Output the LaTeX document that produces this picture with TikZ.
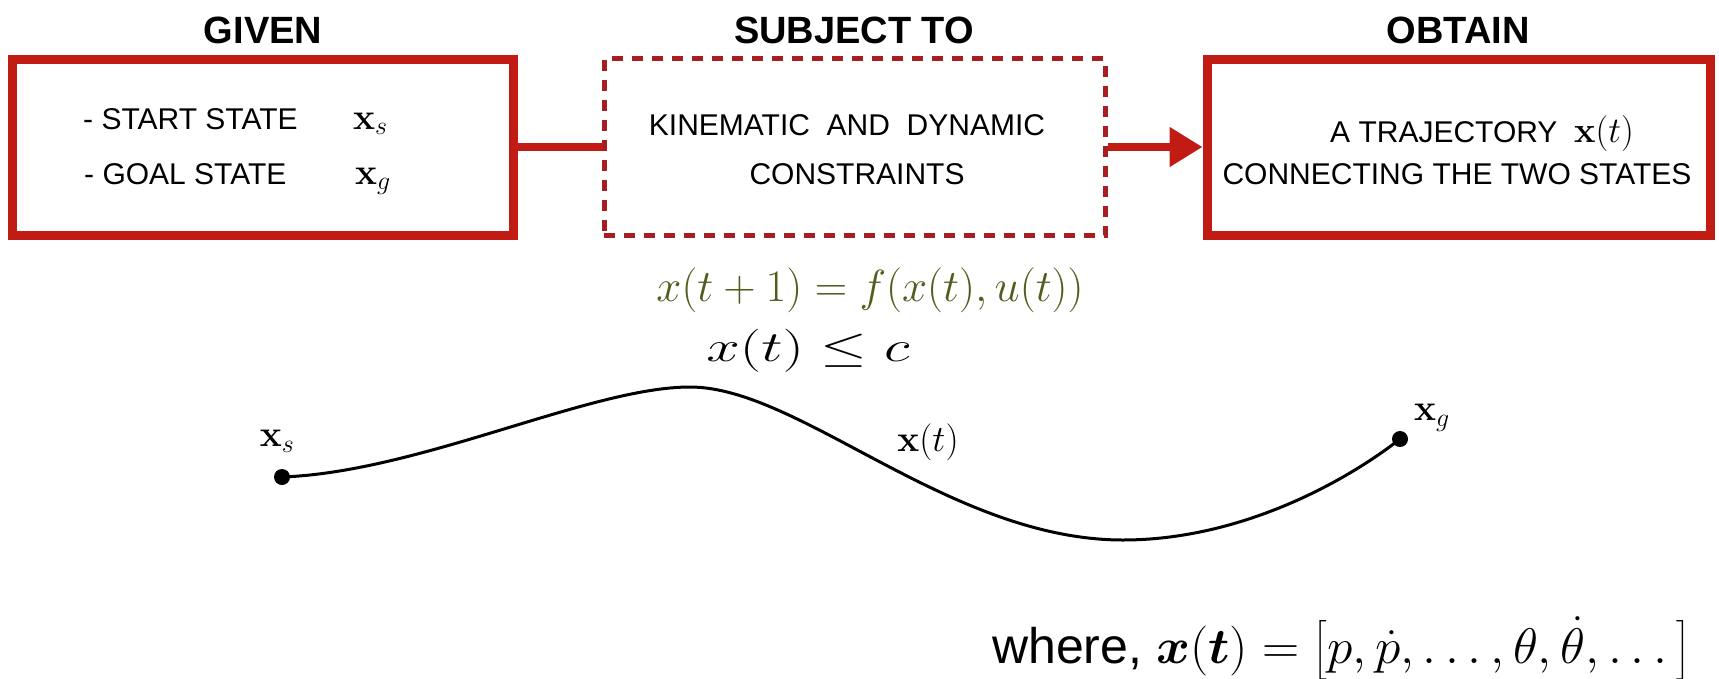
\RequirePackage{fix-cm}
\documentclass[tikz,border=0pt]{standalone}
\usepackage{amsmath,bm}
\usepackage[no-math]{fontspec}
\setmainfont{Liberation Sans}
\usetikzlibrary{arrows.meta}
\definecolor{boxred}{RGB}{192,28,20}
\definecolor{dashred}{RGB}{168,30,32}
\definecolor{eqcol}{RGB}{85,90,30}
\tikzset{
  titletext/.style={font=\fontsize{38}{40}\selectfont\bfseries, anchor=base},
  solidbox/.style={draw=boxred, line width=9pt, minimum width=501pt, minimum height=176pt, inner sep=0pt},
  dashbox/.style={draw=dashred, line width=5pt, dash pattern=on 11pt off 9pt, minimum width=501pt, minimum height=177pt, inner sep=0pt},
  boxtext/.style={font=\fontsize{30}{32}\selectfont, inner sep=0pt},
  mathlabel/.style={font=\fontsize{37}{39}\selectfont, inner sep=0pt},
  statedot/.style={circle, fill=black, inner sep=0pt, minimum size=16pt},
  link/.style={draw=boxred, line width=8pt},
}
\begin{document}
\begin{tikzpicture}[x=1pt,y=-1pt]
\useasboundingbox (0,0) rectangle (1719,678);
% titles
\node[titletext] (tgiven) at (263,43) {GIVEN};
\node[titletext] (tsubj) at (854,43) {SUBJECT TO};
\node[titletext] (tobtain) at (1458,43) {OBTAIN};
% boxes
\node[solidbox] (given) at (262.5,147) {};
\node[dashbox] (subj) at (854.5,147) {};
\node[solidbox, minimum width=503pt] (obtain) at (1458.5,147) {};
% connectors
\draw[link] (given.east) -- (subj.west);
\draw[link, -{Triangle[length=33pt,width=38pt]}] (subj.east) -- (obtain.west);
% GIVEN contents
\node[boxtext, anchor=base west] (start) at (83,129) {- START STATE};
\node[mathlabel, anchor=base west] (startx) at (353,129) {$\mathbf{x}_s$};
\node[boxtext, anchor=base west] (goal) at (84,184) {- GOAL STATE};
\node[mathlabel, anchor=base west] (goalx) at (355,184) {$\mathbf{x}_g$};
% SUBJECT TO contents
\node[boxtext, anchor=base] (kin) at (847,135) {KINEMATIC\ \ AND\ \ DYNAMIC};
\node[boxtext, anchor=base] (cons) at (857,184) {CONSTRAINTS};
% OBTAIN contents
\node[boxtext, anchor=base west] (traj) at (1330,142) {A TRAJECTORY\ \ {\fontsize{36}{38}\selectfont$\mathbf{x}(t)$}};
\node[boxtext, anchor=base] (conn) at (1457,184) {CONNECTING THE TWO STATES};
% equations
\node[font=\fontsize{45}{47}\selectfont, text=eqcol, anchor=base, inner sep=0pt] (dyn) at (870,301) {$x(t+1)=f(x(t),u(t))$};
\node[font=\fontsize{43}{45}\selectfont, anchor=base, inner sep=0pt] (ineq) at (808,361) {\scalebox{1.4}[1]{$x(t)\le c$}};
% trajectory
\node[statedot] (xs) at (282,477) {};
\node[statedot] (xg) at (1400,439) {};
\node[mathlabel] (xslab) at (277,441) {$\mathbf{x}_s$};
\node[mathlabel] (xtlab) at (928,442) {$\mathbf{x}(t)$};
\node[mathlabel] (xglab) at (1432,418) {$\mathbf{x}_g$};
\draw[line width=3pt] (xs.center) .. controls (420,472) and (590,387) .. (690,387)
  .. controls (800,387) and (950,540) .. (1123,540)
  .. controls (1240,540) and (1345,482) .. (xg.center);
% where line
\node[font=\fontsize{50}{52}\selectfont, anchor=base west, inner sep=0pt] (where) at (992,663)
  {where, \scalebox{1.03}[1]{$\bm{x}(\bm{t}) = \big[p, \dot{p}, \ldots, \theta, \dot{\theta}, \ldots\big]$}};
\end{tikzpicture}
\end{document}
